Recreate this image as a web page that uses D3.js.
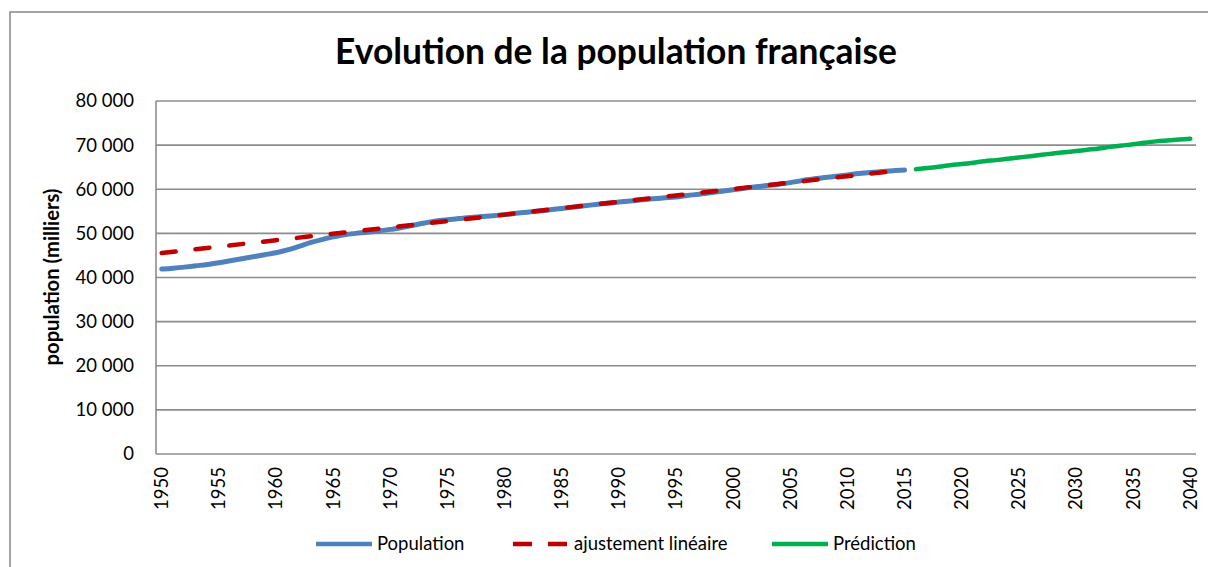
<!DOCTYPE html>
<html>
<head>
<meta charset="utf-8">
<script src="https://cdn.jsdelivr.net/npm/d3@7"></script>
<style>
  body { margin: 0; background: #fff; }
  text { font-family: Lato, Carlito, Calibri, sans-serif; fill: #000; }
</style>
</head>
<body>
<svg id="plotarea"></svg>
<script>
// annees et valeurs (milliers d'habitants)
var popYears = d3.range(1950, 2016);
var population = [
  41900, 42100, 42350, 42650, 42950, 43350, 43800, 44250, 44700, 45150,
  45600, 46250, 47050, 47900, 48600, 49200, 49700, 50000, 50250, 50550,
  50900, 51350, 51850, 52350, 52800, 53100, 53350, 53600, 53800, 54000,
  54250, 54550, 54800, 55050, 55350, 55650, 55950, 56250, 56550, 56850,
  57100, 57350, 57600, 57850, 58050, 58250, 58600, 58850, 59200, 59550,
  59900, 60250, 60550, 60850, 61150, 61500, 61950, 62300, 62650, 62950,
  63250, 63550, 63800, 64000, 64200, 64350
];

var fitYears = [1950, 1955, 1960, 1965, 1970, 1975, 1980, 1985, 1990, 1995, 2000, 2005, 2010, 2015];
var ajustement = [45550, 47000, 48450, 49900, 51350, 52800, 54250, 55700, 57150, 58600, 60050, 61500, 62950, 64400];

var predYears = d3.range(2016, 2041);
var prediction = [
  64550, 64800, 65100, 65450, 65700, 66000, 66350, 66600, 66900, 67200,
  67500, 67800, 68100, 68400, 68650, 68950, 69250, 69600, 69900, 70200,
  70550, 70850, 71050, 71250, 71450
];

var allYears = d3.range(1950, 2041);
var xTickYears = d3.range(1950, 2041, 5);
var yTicks = d3.range(0, 80001, 10000);

var seriesNames = ["Population", "ajustement linéaire", "Prédiction"];
var seriesColors = ["#4f81bd", "#c00000", "#00b050"];

var width = 1208, height = 567;
var plot = {left: 156, right: 1196, top: 101, bottom: 454};

var svg = d3.select("#plotarea")
    .attr("width", width)
    .attr("height", height);

svg.append("rect")
    .attr("width", width).attr("height", height)
    .attr("fill", "#fff");

// cadre du graphique
svg.append("rect")
    .attr("x", 10).attr("y", 12)
    .attr("width", 1300).attr("height", 700)
    .attr("fill", "none")
    .attr("stroke", "#878787")
    .attr("stroke-width", 1.5);

function fitText(sel, target) {
    var w = sel.node().getComputedTextLength();
    var fs = parseFloat(sel.attr("font-size"));
    sel.attr("font-size", fs * target / w);
}

var title = svg.append("text")
    .attr("x", 616).attr("y", 64)
    .attr("text-anchor", "middle")
    .attr("font-weight", "bold")
    .attr("font-size", 30)
    .text("Evolution de la population française");
fitText(title, 562);

var x = d3.scalePoint()
    .domain(allYears)
    .range([plot.left, plot.right])
    .padding(0.5);

var y = d3.scaleLinear()
    .domain([0, 80000])
    .range([plot.bottom, plot.top]);

var fmt = function(d) { return d3.format(",")(d).replace(/,/g, " "); };

// grille horizontale
svg.append("g").selectAll("line")
    .data(yTicks.filter(function(d) { return d > 0; }))
    .enter().append("line")
    .attr("x1", plot.left).attr("x2", plot.right)
    .attr("y1", function(d) { return y(d); })
    .attr("y2", function(d) { return y(d); })
    .attr("stroke", "#8c8c8c")
    .attr("stroke-width", 1.6);

// axes
svg.append("line")
    .attr("x1", plot.left).attr("x2", plot.left)
    .attr("y1", plot.top).attr("y2", plot.bottom)
    .attr("stroke", "#8c8c8c").attr("stroke-width", 1.6);
svg.append("line")
    .attr("x1", plot.left).attr("x2", plot.right)
    .attr("y1", plot.bottom).attr("y2", plot.bottom)
    .attr("stroke", "#8c8c8c").attr("stroke-width", 1.6);

svg.append("g").selectAll("text")
    .data(yTicks)
    .enter().append("text")
    .attr("x", 134)
    .attr("y", function(d) { return y(d); })
    .attr("dy", "0.35em")
    .attr("text-anchor", "end")
    .attr("font-size", 18.5)
    .text(fmt);

svg.append("g").selectAll("text")
    .data(xTickYears)
    .enter().append("text")
    .attr("transform", function(d) { return "translate(" + x(d) + ",467) rotate(-90)"; })
    .attr("dy", "0.35em")
    .attr("text-anchor", "end")
    .attr("font-size", 18.5)
    .text(function(d) { return d; });

var ylab = svg.append("text")
    .attr("transform", "translate(52,277) rotate(-90)")
    .attr("dy", "0.35em")
    .attr("text-anchor", "middle")
    .attr("font-weight", "bold")
    .attr("font-size", 17)
    .text("population (milliers)");
fitText(ylab, 177);

var line = d3.line()
    .x(function(d) { return x(d[0]); })
    .y(function(d) { return y(d[1]); });
var smooth = d3.line()
    .curve(d3.curveMonotoneX)
    .x(function(d) { return x(d[0]); })
    .y(function(d) { return y(d[1]); });

svg.append("path")
    .datum(d3.zip(popYears, population))
    .attr("d", smooth)
    .attr("fill", "none")
    .attr("stroke", seriesColors[0])
    .attr("stroke-width", 5)
    .attr("stroke-linejoin", "round")
    .attr("stroke-linecap", "round");

svg.append("path")
    .datum(d3.zip(fitYears, ajustement))
    .attr("d", line)
    .attr("fill", "none")
    .attr("stroke", seriesColors[1])
    .attr("stroke-width", 4.5)
    .attr("stroke-dasharray", "14,20")
    .attr("stroke-linecap", "round");

svg.append("path")
    .datum(d3.zip(predYears, prediction))
    .attr("d", smooth)
    .attr("fill", "none")
    .attr("stroke", seriesColors[2])
    .attr("stroke-width", 4.5)
    .attr("stroke-linejoin", "round")
    .attr("stroke-linecap", "round");

// legende
var legendX = [316, 513, 772];
var leg = svg.append("g").selectAll("g")
    .data(seriesNames)
    .enter().append("g")
    .attr("transform", function(d, i) { return "translate(" + legendX[i] + ",544)"; });

leg.append("line")
    .attr("x1", 0).attr("x2", 56)
    .attr("stroke", function(d, i) { return seriesColors[i]; })
    .attr("stroke-width", 4.5)
    .attr("stroke-dasharray", function(d, i) { return i == 1 ? "19,16" : null; });

leg.append("text")
    .attr("x", 61)
    .attr("dy", "0.35em")
    .attr("font-size", 18.5)
    .text(function(d) { return d; });
</script>
</body>
</html>
